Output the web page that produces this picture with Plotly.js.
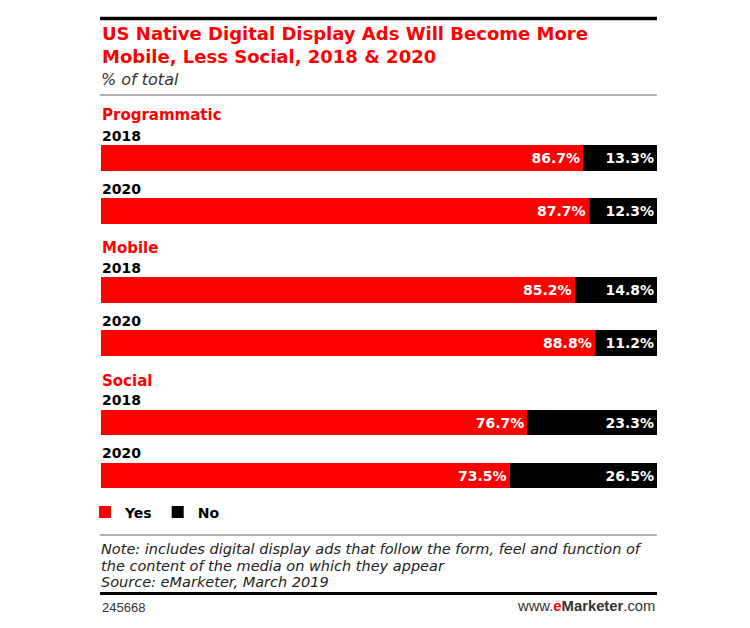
<!DOCTYPE html>
<html>
<head>
<meta charset="utf-8">
<script src="https://cdn.plot.ly/plotly-3.0.1.min.js"></script>
<style>html,body{margin:0;padding:0;background:#fff;}#chart{width:750px;height:628px;}</style>
</head>
<body>
<div id="chart"></div>
<script>
// ---- data ----
var groups = ['Programmatic', 'Mobile', 'Social'];
var years = ['2018', '2020'];
var yesProgrammatic = [86.7, 87.7];
var noProgrammatic = [13.3, 12.3];
var yesMobile = [85.2, 88.8];
var noMobile = [14.8, 11.2];
var yesSocial = [76.7, 73.5];
var noSocial = [23.3, 26.5];
var seriesNames = ['Yes', 'No'];
var noteLines = [
  'Note: includes digital display ads that follow the form, feel and function of',
  'the content of the media on which they appear',
  'Source: eMarketer, March 2019'
];

var W = 750, H = 628;
function xp(px) { return px / W; }
function yp(py) { return 1 - py / H; }

var RED = '#ff0000', BLACK = '#000000';
var SANS = 'DejaVu Sans, sans-serif';
var yesData = [yesProgrammatic, yesMobile, yesSocial];
var noData = [noProgrammatic, noMobile, noSocial];
var yAxisIds = ['y', 'y2', 'y3'];

var traces = [];
for (var g = 0; g < groups.length; g++) {
  traces.push({
    type: 'bar', orientation: 'h', name: seriesNames[0], legendgroup: 'yes',
    showlegend: g === 0, x: yesData[g], y: years.slice(), yaxis: yAxisIds[g],
    marker: {color: RED},
    texttemplate: '%{x:.1f}%', textposition: 'inside', insidetextanchor: 'end',
    textfont: {family: SANS, size: 14, color: '#ffffff', weight: 'bold'},
    hoverinfo: 'skip'
  });
  traces.push({
    type: 'bar', orientation: 'h', name: seriesNames[1], legendgroup: 'no',
    showlegend: g === 0, x: noData[g], y: years.slice(), yaxis: yAxisIds[g],
    marker: {color: BLACK},
    texttemplate: '%{x:.1f}%', textposition: 'inside', insidetextanchor: 'end',
    textfont: {family: SANS, size: 14, color: '#ffffff', weight: 'bold'},
    hoverinfo: 'skip'
  });
}

function yAxis(top, bottom) {
  return {domain: [yp(bottom), yp(top)], type: 'category', range: [1.5, -0.5], autorange: false,
    showticklabels: false, showgrid: false, zeroline: false, showline: false, ticks: '', anchor: 'x'};
}

var annotations = [];
annotations.push({xref: 'paper', yref: 'paper', x: xp(100), y: yp(45.5), xanchor: 'left', yanchor: 'middle',
  align: 'left', showarrow: false,
  text: 'US Native Digital Display Ads Will Become More<br>Mobile, Less Social, 2018 &amp; 2020',
  font: {family: SANS, size: 18, color: RED, weight: 'bold'}});
annotations.push({xref: 'paper', yref: 'paper', x: xp(99), y: yp(80), xanchor: 'left', yanchor: 'middle',
  showarrow: false, text: '<i>% of total</i>',
  font: {family: SANS, size: 16, color: '#333333'}});
var groupShift = [43, 42, 41.5];
for (var g2 = 0; g2 < groups.length; g2++) {
  annotations.push({xref: 'paper', yref: yAxisIds[g2], x: xp(100), y: 0, yshift: groupShift[g2],
    xanchor: 'left', yanchor: 'middle', showarrow: false, text: groups[g2],
    font: {family: SANS, size: 15, color: RED, weight: 'bold'}});
  for (var k = 0; k < years.length; k++) {
    annotations.push({xref: 'paper', yref: yAxisIds[g2], x: xp(100), y: k, yshift: 22.5,
      xanchor: 'left', yanchor: 'middle', showarrow: false, text: years[k],
      font: {family: SANS, size: 14, color: '#000000', weight: 'bold'}});
  }
}
var noteY = [549, 565.5, 582];
for (var n = 0; n < noteLines.length; n++) {
  annotations.push({xref: 'paper', yref: 'paper', x: xp(99), y: yp(noteY[n]), xanchor: 'left', yanchor: 'middle',
    showarrow: false, text: '<i>' + noteLines[n] + '</i>',
    font: {family: SANS, size: 14.5, color: '#222222'}});
}
annotations.push({xref: 'paper', yref: 'paper', x: xp(100), y: yp(607), xanchor: 'left', yanchor: 'middle',
  showarrow: false, text: '245668',
  font: {family: 'Liberation Sans, sans-serif', size: 13, color: '#333333'}});
annotations.push({xref: 'paper', yref: 'paper', x: xp(657), y: yp(606), xanchor: 'right', yanchor: 'middle',
  showarrow: false,
  text: 'www.<b><span style="color:#ff0000">e</span>Marketer</b>.com',
  font: {family: 'Liberation Sans, sans-serif', size: 14.8, color: '#333333'}});

var shapes = [
  {type: 'line', xref: 'paper', yref: 'paper', x0: xp(100), x1: xp(657), y0: yp(18.5), y1: yp(18.5), line: {color: '#000', width: 3.5}},
  {type: 'line', xref: 'paper', yref: 'paper', x0: xp(100), x1: xp(657), y0: yp(95), y1: yp(95), line: {color: '#999', width: 1.5}},
  {type: 'line', xref: 'paper', yref: 'paper', x0: xp(100), x1: xp(657), y0: yp(535), y1: yp(535), line: {color: '#999', width: 1.5}},
  {type: 'line', xref: 'paper', yref: 'paper', x0: xp(100), x1: xp(657), y0: yp(593.5), y1: yp(593.5), line: {color: '#000', width: 3}}
];

var layout = {
  width: W, height: H,
  margin: {l: 0, r: 0, t: 0, b: 0},
  paper_bgcolor: '#ffffff', plot_bgcolor: '#ffffff',
  barmode: 'stack', bargap: 0.51,
  xaxis: {domain: [xp(100.5), xp(657)], range: [0, 100], visible: false},
  yaxis: yAxis(131.5, 237.5),
  yaxis2: yAxis(263.5, 369.5),
  yaxis3: yAxis(396, 502),
  showlegend: true,
  legend: {orientation: 'h', x: xp(85), y: yp(512.5), xanchor: 'left', yanchor: 'middle',
    bgcolor: 'rgba(0,0,0,0)', traceorder: 'normal',
    font: {family: SANS, size: 14, color: '#000', weight: 'bold'}},
  annotations: annotations,
  shapes: shapes
};

Plotly.newPlot('chart', traces, layout, {displayModeBar: false});
</script>
</body>
</html>
